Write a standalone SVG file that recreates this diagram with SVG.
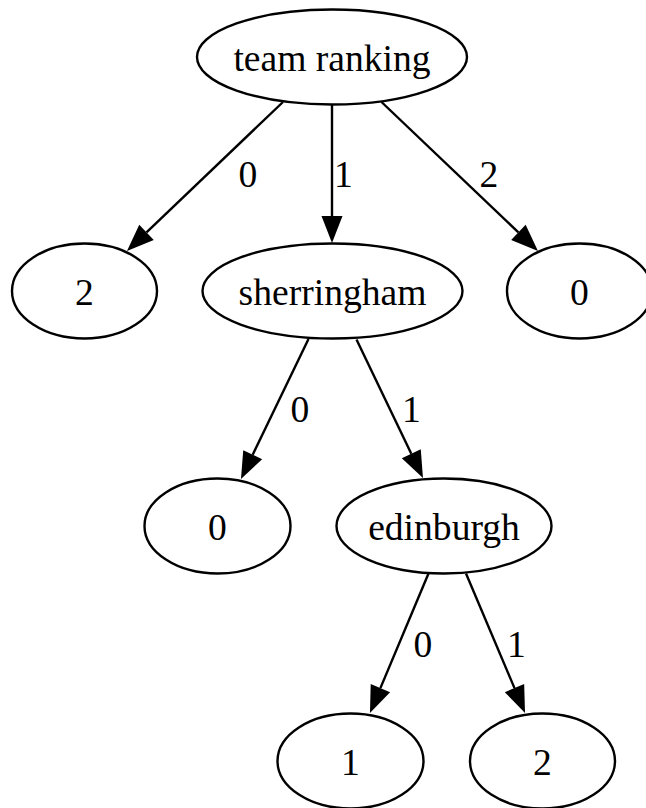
<svg xmlns="http://www.w3.org/2000/svg" width="646" height="808" viewBox="0 0 646 808">
  <style>
    .node ellipse { fill: #ffffff; stroke: #000000; stroke-width: 2.4; }
    .node text, .label { font-family: "Liberation Serif", "Times New Roman", serif; font-size: 37.6px; fill: #000000; text-anchor: middle; }
    .edge { fill: none; stroke: #000000; stroke-width: 2.4; marker-end: url(#arrow); }
  </style>
  <defs>
    <marker id="arrow" markerUnits="userSpaceOnUse" viewBox="0 0 27 21" markerWidth="27" markerHeight="21" refX="0" refY="10.5" orient="auto" overflow="visible">
      <path d="M0,0 L27,10.5 L0,21 Z" fill="#000000"/>
    </marker>
  </defs>
  <rect x="0" y="0" width="646" height="808" fill="#ffffff"/>

  <!-- connectors -->
  <g id="edges">
    <path class="edge" d="M283,102 L146.5,232.3"/>
    <text class="label" x="248" y="187">0</text>
    <path class="edge" d="M332,104 L332,216"/>
    <text class="label" x="343.5" y="187">1</text>
    <path class="edge" d="M381.5,102 L518.4,232.4"/>
    <text class="label" x="489" y="187">2</text>

    <path class="edge" d="M308.5,339 L252.7,454.7"/>
    <text class="label" x="300" y="422">0</text>
    <path class="edge" d="M356.5,339.5 L411.3,453.7"/>
    <text class="label" x="411.5" y="422">1</text>

    <path class="edge" d="M428.5,573.5 L380.4,688.1"/>
    <text class="label" x="423" y="657">0</text>
    <path class="edge" d="M466,573.5 L514.5,688.1"/>
    <text class="label" x="516.5" y="657">1</text>
  </g>

  <!-- nodes -->
  <g id="team_ranking" class="node">
    <ellipse cx="332" cy="57" rx="135" ry="47.5"/>
    <text x="332" y="70.5">team ranking</text>
  </g>
  <g id="leaf_2_top" class="node">
    <ellipse cx="84.5" cy="291" rx="72.5" ry="47.5"/>
    <text x="84.5" y="304.5">2</text>
  </g>
  <g id="sherringham" class="node">
    <ellipse cx="332.5" cy="291" rx="130" ry="47.5"/>
    <text x="332.5" y="304.5">sherringham</text>
  </g>
  <g id="leaf_0_top" class="node">
    <ellipse cx="579.5" cy="291" rx="72.5" ry="47.5"/>
    <text x="579.5" y="304.5">0</text>
  </g>
  <g id="leaf_0_mid" class="node">
    <ellipse cx="217.5" cy="526" rx="73" ry="47.5"/>
    <text x="217.5" y="539.5">0</text>
  </g>
  <g id="edinburgh" class="node">
    <ellipse cx="444" cy="526" rx="107.5" ry="47.5"/>
    <text x="444" y="539.5">edinburgh</text>
  </g>
  <g id="leaf_1_bottom" class="node">
    <ellipse cx="350.5" cy="761" rx="73" ry="47.5"/>
    <text x="350.5" y="774.5">1</text>
  </g>
  <g id="leaf_2_bottom" class="node">
    <ellipse cx="542.5" cy="761" rx="72.5" ry="47.5"/>
    <text x="542.5" y="774.5">2</text>
  </g>
</svg>
